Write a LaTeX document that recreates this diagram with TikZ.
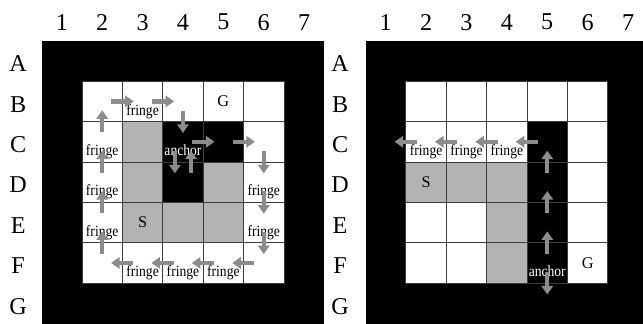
\documentclass[tikz,border=0pt]{standalone}
\usepackage{fontspec}
\setmainfont{Liberation Serif}
\newfontfamily\tagfont[FakeStretch=0.87]{Liberation Serif}
\usetikzlibrary{arrows.meta}
\definecolor{mzWall}{HTML}{B3B3B3}
\definecolor{mzMove}{HTML}{8C8C8C}
\definecolor{mzLine}{HTML}{3C3C3C}
\tikzset{
  mz slot/.style={minimum size=1cm, inner sep=0pt, outer sep=0pt},
  mz open/.style={draw=mzLine, line width=0.6pt, fill=white},
  mz wall/.style={draw=mzLine, line width=0.6pt, fill=mzWall},
  mz dark/.style={draw=mzLine, line width=0.6pt, fill=black},
  mz move/.style={draw=mzMove, line width=3pt, -{Triangle[width=8pt,length=6pt]}, shorten <=0.23cm, shorten >=0.22cm},
  mz label/.style={font=\fontsize{17}{17}\selectfont},
  mz tag/.style={anchor=base, inner sep=0pt, font=\tagfont\fontsize{11}{11}\selectfont},
  mz mark/.style={inner sep=0pt, font=\fontsize{11.5}{11.5}\selectfont},
}
\begin{document}
\begin{tikzpicture}
  \useasboundingbox (0,0) rectangle (15.92,-8.02);
  % Outer walls of both grids
  \fill (1.03,-1.01) rectangle ++(7,-7);
  \fill (9.05,-1.01) rectangle ++(7,-7);
  % Cell slots: L = left grid, R = right grid
  \foreach \c in {1,...,7}
    \foreach \r in {1,...,7} {
      \node[mz slot] (L\c\r) at ({0.53+\c},{-0.51-\r}) {};
      \node[mz slot] (R\c\r) at ({8.55+\c},{-0.51-\r}) {};
    }
  % Open floor
  \foreach \c in {2,...,6}
    \foreach \r in {2,...,6} {
      \draw[mz open] (L\c\r.south west) rectangle (L\c\r.north east);
      \draw[mz open] (R\c\r.south west) rectangle (R\c\r.north east);
    }
  % Obstacles and explored cells
  \foreach \c/\r in {3/3,3/4,5/4,3/5,4/5,5/5}
    \draw[mz wall] (L\c\r.south west) rectangle (L\c\r.north east);
  \foreach \c/\r in {4/3,5/3,4/4}
    \draw[mz dark] (L\c\r.south west) rectangle (L\c\r.north east);
  \foreach \c/\r in {2/4,3/4,4/4,4/5,4/6}
    \draw[mz wall] (R\c\r.south west) rectangle (R\c\r.north east);
  \foreach \c/\r in {5/3,5/4,5/5,5/6}
    \draw[mz dark] (R\c\r.south west) rectangle (R\c\r.north east);
  % Column and row labels
  \foreach \c in {1,...,7} {
    \node[mz label] (lx\c) at ({0.53+\c},-0.55) {\c};
    \node[mz label] (rx\c) at ({8.55+\c},-0.55) {\c};
  }
  \foreach \r/\n in {1/A,2/B,3/C,4/D,5/E,6/F,7/G} {
    \node[mz label] (ly\r) at (0.45,{-0.58-\r}) {\n};
    \node[mz label] (ry\r) at (8.42,{-0.58-\r}) {\n};
  }
  % Cell texts
  \foreach \cell [count=\i] in {L32,L23,L24,L25,L64,L65,L36,L46,L56,R23,R33,R43}
    \node[mz tag] (fr\i) at ([yshift=-0.34cm]\cell.center) {fringe};
  \node[mz tag, text=white] (anL) at ([yshift=-0.34cm]L43.center) {anchor};
  \node[mz tag, text=white] (anR) at ([yshift=-0.34cm]R56.center) {anchor};
  \node[mz mark] (gL) at (L52) {G};
  \node[mz mark] (sL) at (L35) {S};
  \node[mz mark] (sR) at (R24) {S};
  \node[mz mark] (gR) at (R66) {G};
  % Moves
  \foreach \a/\b in {L22/L32,L32/L42,L42/L43,L43/L53,L53/L63,L63/L64,L64/L65,L65/L66,
                     L66/L56,L56/L46,L46/L36,L36/L26,L26/L25,L25/L24,L24/L23,L23/L22,
                     R53/R43,R43/R33,R33/R23,R23/R13,R54/R53,R55/R54,R56/R55,R56/R57}
    \draw[mz move] (\a.center) -- (\b.center);
  \draw[mz move] ([xshift=-0.2cm]L43.center) -- ([xshift=-0.2cm]L44.center);
  \draw[mz move] ([xshift=0.2cm]L44.center) -- ([xshift=0.2cm]L43.center);
\end{tikzpicture}
\end{document}
